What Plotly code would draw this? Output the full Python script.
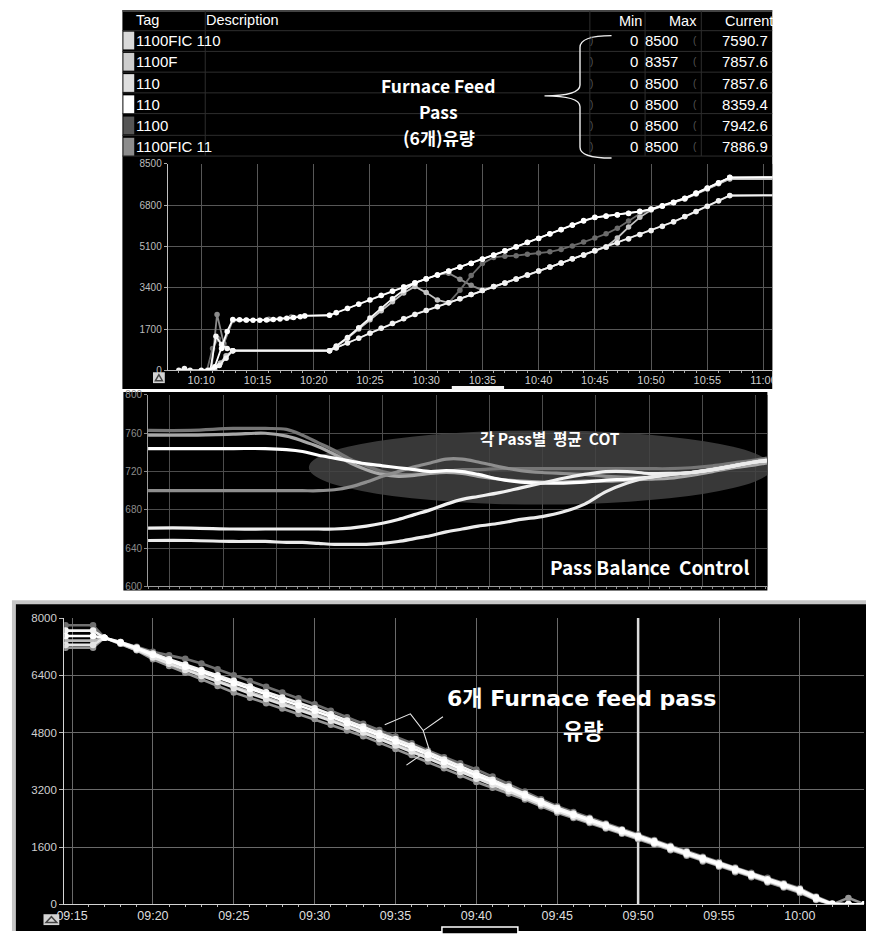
import pandas as pd
import plotly.graph_objects as go

W, H = 870, 937


def fx(px):
    return px / W


def fy(py):
    return 1 - py / H


# ---------------- tag table ----------------
table_tags = ["1100FIC 110", "1100F", "110", "110", "1100", "1100FIC 11"]
table_min = [0, 0, 0, 0, 0, 0]
table_max = [8500, 8357, 8500, 8500, 8500, 8500]
table_current = [7590.7, 7857.6, 7857.6, 8359.4, 7942.6, 7886.9]
table_swatch = ["#d9d9d9", "#cdcdcd", "#dedede", "#ffffff", "#555555", "#8c8c8c"]

# ---------------- feed flow ramp-up (10:00 base, minutes) ----------------
ramp = list(range(22, 58))
t1_min = [10.0, 10.6, 11.2, 11.8, 12.3, 12.8, 13.4, 14.0, 14.6, 15.2, 15.8, 16.4, 17.0,
          17.6, 18.2, 18.8, 19.2, 21.4] + ramp + [61]
t1_val = [0, 0, 150, 900, 1600, 2090, 2080, 2070, 2060, 2060, 2070, 2090, 2110, 2140,
          2170, 2200, 2240, 2266,
          2370, 2550, 2720, 2900, 3080, 3260, 3430, 3600, 3760, 3920, 4080, 4240, 4400,
          4570, 4740, 4910, 5080, 5260, 5430, 5610, 5790, 5970, 6150, 6290, 6350, 6400,
          6460, 6540, 6630, 6770, 6910, 7080, 7290, 7500, 7720, 7940, 7959]
t2_min = [8.0, 8.5, 9.0, 11.0, 11.6, 12.2, 12.8, 21.4] + ramp + [61]
t2_val = [0, 70, 0, 0, 200, 500, 809, 809,
          920, 1120, 1320, 1530, 1730, 1930, 2120, 2300, 2460, 2620, 2780, 2950, 3120,
          3290, 3450, 3600, 3760, 3920, 4090, 4250, 4420, 4590, 4750, 4920, 5080, 5250,
          5420, 5590, 5760, 5930, 6120, 6330, 6540, 6760, 6980, 7200, 7217]
t3_min = [10.8, 11.3, 11.8, 12.3, 12.8, 21.4] + ramp + [61]
t3_val = [0, 1400, 1050, 900, 809, 809,
          1000, 1350, 1750, 2150, 2550, 2950, 3300, 3600, 3770, 3930, 4090, 4250, 4410,
          4580, 4750, 4920, 5090, 5270, 5440, 5620, 5800, 5980, 6170, 6300, 6360, 6410,
          6470, 6550, 6640, 6780, 6920, 7090, 7300, 7510, 7730, 7950, 7950]
t4_min = [11.2, 11.7, 12.2, 12.8, 21.4] + ramp + [61]
t4_val = [0, 300, 600, 809, 809,
          980, 1320, 1700, 2080, 2450, 2820, 3180, 3450, 3200, 2900, 2780, 2950, 3120,
          3290, 3450, 3600, 3760, 3920, 4090, 4250, 4420, 4590, 4750, 4920, 5080, 5450,
          5900, 6300, 6600, 6760, 6900, 7060, 7260, 7470, 7680, 7880, 7880]
t5_min = [10.9, 11.4, 12.0, 12.8, 14.0, 16.0, 18.0, 19.2, 21.4] + ramp + [61]
t5_val = [0, 2300, 1100, 2050, 2060, 2100, 2190, 2250, 2266,
          2380, 2560, 2730, 2910, 3090, 3270, 3440, 3610, 3770, 3930, 4000, 3750, 3500,
          3300, 3440, 3590, 3750, 3910, 4080, 4240, 4410, 4580, 4740, 4910, 5070, 5240,
          5410, 5580, 5750, 5920, 6110, 6320, 6530, 6750, 6970, 7190, 7190]
t6_min = [10.5, 11.0, 11.5, 12.0, 12.8, 21.4] + ramp + [61]
t6_val = [0, 900, 1300, 1000, 809, 809,
          930, 1130, 1330, 1540, 1740, 1940, 2130, 2310, 2470, 2630, 2780, 3300, 3900,
          4400, 4650, 4700, 4720, 4780, 4830, 4880, 4980, 5120, 5280, 5450, 5620, 5850,
          6150, 6450, 6620, 6760, 6900, 7060, 7270, 7480, 7700, 7900, 7900]

top_series = [
    (t5_min, t5_val, "#8a8a8a"),
    (t6_min, t6_val, "#6b6b6b"),
    (t4_min, t4_val, "#c4c4c4"),
    (t2_min, t2_val, "#f2f2f2"),
    (t3_min, t3_val, "#f6f6f6"),
    (t1_min, t1_val, "#ffffff"),
]

# ---------------- coil outlet temperature per pass (minutes) ----------------
cot_min = [0, 4, 8, 11, 13, 14.5, 16, 17.5, 19, 20.5, 22, 23.5, 25, 26.5, 28, 29.5, 31,
           33, 35, 37, 39, 41, 43, 45, 47, 49, 51, 53, 55, 57, 58.1]
cot_a = [763, 763, 765, 765, 764, 758, 750, 742, 733, 726, 720, 717, 717, 718, 720, 722,
         722, 723, 723, 723, 723, 723, 723, 723, 723, 723, 724, 726, 729, 732, 734]
cot_b = [758, 758, 759, 760, 757, 752, 746, 738, 729, 722, 717, 715, 716, 718, 719, 718,
         715, 712, 710, 709, 709, 710, 710, 711, 712, 713, 716, 720, 724, 727, 729]
cot_c = [744, 744, 744, 744, 743, 741, 737, 734, 731, 728, 726, 724, 722, 720, 721, 720,
         717, 712, 709, 708, 708, 709, 711, 712, 714, 717, 719, 722, 726, 730, 732]
cot_d = [700, 700, 700, 700, 700, 700, 700, 701, 704, 709, 715, 720, 725, 729, 733, 733,
         730, 725, 721, 719, 718, 717, 715, 714, 714, 716, 719, 723, 727, 731, 733]
cot_e = [661, 661, 660, 660, 660, 660, 660, 660, 661, 663, 666, 670, 675, 680, 686, 691,
         694, 698, 703, 708, 713, 717, 720, 720, 718, 718, 719, 722, 726, 730, 731]
cot_f = [648, 648, 647, 647, 646, 646, 645, 644, 644, 644, 645, 647, 650, 653, 657, 660,
         663, 666, 670, 673, 678, 686, 699, 708, 714, 717, 719, 722, 726, 730, 731]

cot_series = [
    (cot_a, "#767676"),
    (cot_b, "#a8a8a8"),
    (cot_d, "#8e8e8e"),
    (cot_c, "#ffffff"),
    (cot_e, "#f0f0f0"),
    (cot_f, "#ebebeb"),
]

# ---------------- feed flow ramp-down (09:00 base, minutes) ----------------
down_min = [14.6, 16.3] + list(range(17, 63)) + [63, 64]
d1 = [7800, 7800,
      7450, 7330, 7200, 7060, 6960, 6860, 6730, 6570, 6400, 6240, 6080, 5920, 5760, 5590,
      5410, 5230, 5050, 4870, 4690, 4500, 4300, 4110, 3940, 3770, 3570, 3360, 3150, 2940,
      2740, 2580, 2420, 2260, 2100, 1950, 1800, 1640, 1490, 1330, 1180, 1030, 880, 740,
      590, 450, 220, 30, 0, 0]
d2 = [7650, 7650,
      7450, 7330, 7180, 7010, 6850, 6700, 6550, 6400, 6250, 6090, 5930, 5780, 5630, 5480,
      5310, 5140, 4970, 4790, 4620, 4440, 4250, 4050, 3860, 3670, 3480, 3290, 3090, 2890,
      2700, 2540, 2390, 2230, 2080, 1920, 1770, 1610, 1460, 1300, 1150, 1000, 850, 700,
      560, 420, 200, 20, 0, 0]
d3 = [7500, 7500,
      7450, 7310, 7150, 6970, 6800, 6640, 6490, 6330, 6180, 6020, 5860, 5710, 5560, 5410,
      5240, 5070, 4900, 4720, 4550, 4370, 4180, 3980, 3790, 3600, 3420, 3230, 3040, 2840,
      2650, 2500, 2350, 2190, 2040, 1890, 1730, 1580, 1420, 1270, 1110, 960, 820, 670,
      530, 390, 170, 10, 0, 0]
d4 = [7370, 7370,
      7450, 7280, 7110, 6920, 6740, 6570, 6410, 6250, 6090, 5930, 5780, 5630, 5480, 5330,
      5160, 4990, 4820, 4640, 4460, 4290, 4100, 3910, 3720, 3530, 3360, 3180, 3000, 2800,
      2620, 2470, 2320, 2170, 2010, 1860, 1710, 1550, 1400, 1240, 1090, 940, 800, 650,
      510, 360, 150, 5, 0, 0]
d5 = [7250, 7250,
      7450, 7300, 7120, 6900, 6720, 6550, 6380, 6210, 6040, 5890, 5740, 5590, 5440, 5290,
      5130, 4960, 4800, 4620, 4440, 4270, 4080, 3890, 3700, 3510, 3340, 3160, 2980, 2790,
      2600, 2450, 2310, 2150, 2000, 1850, 1700, 1540, 1390, 1230, 1080, 930, 790, 640,
      500, 350, 140, 0, 0, 0]
d6 = [7170, 7170,
      7450, 7290, 7100, 6850, 6660, 6470, 6290, 6100, 5920, 5770, 5620, 5470, 5320, 5180,
      5020, 4860, 4700, 4520, 4340, 4170, 3990, 3800, 3610, 3420, 3260, 3100, 2930, 2740,
      2560, 2410, 2270, 2120, 1970, 1820, 1670, 1510, 1360, 1200, 1050, 900, 760, 610,
      470, 320, 120, 0, 180, 0]

down_series = [
    (d1, "#707070"),
    (d6, "#959595"),
    (d4, "#bababa"),
    (d5, "#e4e4e4"),
    (d2, "#f2f2f2"),
    (d3, "#ffffff"),
]

top_base = pd.Timestamp("2024-01-01 10:00")
down_base = pd.Timestamp("2024-01-01 09:00")


def stamp(base, mins):
    return [base + pd.Timedelta(minutes=m) for m in mins]


fig = go.Figure()

for mins, vals, col in top_series:
    fig.add_trace(go.Scatter(
        x=stamp(top_base, mins), y=vals, mode="lines+markers",
        line=dict(color=col, width=1.8), marker=dict(color=col, size=5.5),
        xaxis="x", yaxis="y", hoverinfo="skip"))

for vals, col in cot_series:
    fig.add_trace(go.Scatter(
        x=cot_min, y=vals, mode="lines", line=dict(color=col, width=3.2, shape="spline"),
        xaxis="x2", yaxis="y2", hoverinfo="skip"))

for vals, col in down_series:
    fig.add_trace(go.Scatter(
        x=stamp(down_base, down_min), y=vals, mode="lines+markers",
        line=dict(color=col, width=2.6), marker=dict(color=col, size=6.5),
        xaxis="x3", yaxis="y3", hoverinfo="skip"))

ui_font = "Liberation Sans, Arial, sans-serif"
kr_font = "Noto Sans CJK KR, Noto Sans, sans-serif"
wide_font = "DejaVu Sans, Noto Sans CJK KR, sans-serif"

shapes = []
annotations = []


def rect(x0, y0, x1, y1, fill, layer="below", line=None):
    shapes.append(dict(type="rect", xref="paper", yref="paper",
                       x0=fx(x0), x1=fx(x1), y0=fy(y1), y1=fy(y0),
                       fillcolor=fill, line=line or dict(width=0), layer=layer))


def seg(x0, y0, x1, y1, color, width=1, layer="below"):
    shapes.append(dict(type="line", xref="paper", yref="paper",
                       x0=fx(x0), x1=fx(x1), y0=fy(y0), y1=fy(y1),
                       line=dict(color=color, width=width), layer=layer))


def label(x, y, text, size, color="#ffffff", anchor="left", family=ui_font):
    shift = {"left": -5, "right": 4, "center": 0}[anchor]
    annotations.append(dict(xref="paper", yref="paper", x=fx(x), y=fy(y), text=text,
                            showarrow=False, xanchor=anchor, yanchor="middle",
                            xshift=shift, borderpad=0,
                            font=dict(family=family, size=size, color=color)))


def path(points, color, width=1.2, layer="above", close=False):
    # points: list of (command, (x, y)) pairs, one coordinate pair per command
    d = " ".join(f"{cmd}{fx(px):.5f},{fy(py):.5f}" for cmd, (px, py) in points)
    if close:
        d += " Z"
    shapes.append(dict(type="path", xref="paper", yref="paper", path=d,
                       line=dict(color=color, width=width), layer=layer))


def brace_path(color, width):
    d = (f"M{fx(612):.5f},{fy(30):.5f} "
         f"Q{fx(580):.5f},{fy(30):.5f} {fx(580):.5f},{fy(42):.5f} "
         f"L{fx(580):.5f},{fy(80):.5f} "
         f"Q{fx(580):.5f},{fy(91):.5f} {fx(544):.5f},{fy(91):.5f} "
         f"Q{fx(580):.5f},{fy(91):.5f} {fx(580):.5f},{fy(102):.5f} "
         f"L{fx(580):.5f},{fy(143):.5f} "
         f"Q{fx(580):.5f},{fy(154):.5f} {fx(612):.5f},{fy(154):.5f}")
    shapes.append(dict(type="path", xref="paper", yref="paper", path=d,
                       line=dict(color=color, width=width), layer="above"))


# panels
rect(116, 4, 775, 388, "#000000")
rect(117, 391, 770, 592, "#000000")
rect(4, 602, 870, 937, "#c6c6c6")
rect(8, 606, 870, 937, "#000000")

# table grid
row_y = [35 + i * 21.5 for i in range(6)]
seg(116, 5, 775, 5, "#5a5a5a", 1.5)
for yy in [25, 46, 67, 88, 109, 131, 152]:
    seg(116, yy, 775, yy, "#2e2e2e", 1)
for xx in [200, 590, 646, 703]:
    seg(xx, 5, xx, 152, "#2e2e2e", 1)
for yy, col in zip(row_y, table_swatch):
    rect(117, yy - 9, 128, yy + 9, col)

label(134, 14, "Tag", 14.5)
label(205, 14, "Description", 14.5)
label(640, 15, "Min", 14.5, anchor="right")
label(696, 15, "Max", 14.5, anchor="right")
label(773, 15, "Current", 14.5, anchor="right")
for yy, tag, mn, mx, cur in zip(row_y, table_tags, table_min, table_max, table_current):
    label(134, yy, tag, 15)
    label(594, yy, ")", 10, color="#555555")
    label(636, yy, str(mn), 15, anchor="right")
    label(650, yy, str(mx), 15)
    label(699, yy, "(", 10, color="#555555")
    label(768, yy, f"{cur:.1f}", 15, anchor="right")

# brace grouping the six passes
brace_path("#f0f0f0", 1.4)
label(437, 81, "<b>Furnace Feed</b>", 17.5, anchor="center", family=kr_font)
label(437, 107, "<b>Pass</b>", 17.5, anchor="center", family=kr_font)
label(437, 133, "<b>(6개)유량</b>", 17.5, anchor="center", family=kr_font)

# COT highlight ellipse
shapes.append(dict(type="circle", xref="x2", yref="y2", x0=15.1, x1=58.6, y0=685.5, y1=763,
                   fillcolor="rgba(66,66,66,0.85)", line=dict(width=0), layer="between"))
label(550, 438, "<b>각 Pass별  평균  COT</b>", 15.5, anchor="center", family=kr_font)
label(650, 568, "<b>Pass Balance  Control</b>", 19, anchor="center", family=kr_font)

# ramp-down callout
label(582, 701, "<b>6개 Furnace feed pass</b>", 22, anchor="center", family=wide_font)
label(583, 732, "<b>유량</b>", 22, anchor="center", family=kr_font)
path([("M", (382, 728)), ("L", (408, 717)), ("L", (421, 734)), ("L", (441, 720)),
      ("M", (421, 734)), ("L", (427, 753)), ("L", (404, 769))], "#e8e8e8", 1.1)

# cursor at 09:50
shapes.append(dict(type="line", xref="x3", yref="y3",
                   x0=down_base + pd.Timedelta(minutes=50), x1=down_base + pd.Timedelta(minutes=50),
                   y0=0, y1=8000, line=dict(color="#dcdcdc", width=2.5), layer="between"))

# trend toolbar buttons and scroll thumbs
for bx0, by0, bx1, by1 in [(147, 371, 159, 382), (36, 920, 52, 931)]:
    rect(bx0, by0, bx1, by1, "#d4d4d4", layer="above")
    cx = (bx0 + bx1) / 2
    path([("M", (bx0 + 2.5, by1 - 2.5)), ("L", (cx, by0 + 2.5)), ("L", (bx1 - 2.5, by1 - 2.5))],
         "#444444", 1.5, close=True)
rect(450, 385, 503, 389, "#f4f4f4", layer="above")
rect(440, 933, 517, 940, "#000000", layer="above", line=dict(color="#ffffff", width=1.5))
rect(775.5, 0, 870, 389, "#ffffff", layer="above")

axis_common = dict(showline=True, zeroline=False, showgrid=True, gridwidth=1)

fig.update_layout(
    width=W, height=H, margin=dict(l=0, r=0, t=0, b=0),
    paper_bgcolor="#ffffff", plot_bgcolor="#000000", showlegend=False,
    shapes=shapes, annotations=annotations,
    xaxis=dict(axis_common, domain=[fx(162), fx(775)], anchor="y", type="date",
               range=["2024-01-01 10:07:01", "2024-01-01 11:00:47"],
               tick0="2024-01-01 10:00", dtick=300000, tickformat="%H:%M",
               gridcolor="#575757", linecolor="#c0c0c0", ticks="",
               tickfont=dict(family=ui_font, size=11, color="#d0d0d0"),
               minor=dict(ticks="outside", ticklen=2, tickcolor="#aaaaaa", dtick=60000,
                          showgrid=False)),
    yaxis=dict(axis_common, domain=[fy(369), fy(160)], anchor="x", range=[0, 8500],
               tick0=0, dtick=1700, tickformat="d", gridcolor="#575757",
               linecolor="#c0c0c0", ticks="outside", ticklen=3, tickcolor="#aaaaaa",
               tickfont=dict(family=ui_font, size=10, color="#bdbdbd")),
    xaxis2=dict(axis_common, domain=[fx(142), fx(770)], anchor="y2", range=[0, 58.15],
                tick0=2.04, dtick=5, showticklabels=False, ticks="",
                gridcolor="#4c4c4c", linecolor="#9a9a9a",
                minor=dict(ticks="outside", ticklen=2, tickcolor="#888888", dtick=1,
                           showgrid=False)),
    yaxis2=dict(axis_common, domain=[fy(588), fy(394)], anchor="x2", range=[600, 800],
                tick0=600, dtick=40, gridcolor="#4c4c4c", linecolor="#9a9a9a",
                ticks="outside", ticklen=3, tickcolor="#888888",
                tickfont=dict(family=ui_font, size=10, color="#8c8c8c")),
    xaxis3=dict(axis_common, domain=[fx(57), fx(868)], anchor="y3", type="date",
                range=["2024-01-01 09:14:31", "2024-01-01 10:03:58"],
                tick0="2024-01-01 09:00", dtick=300000, tickformat="%H:%M",
                gridcolor="#6a6a6a", linecolor="#d4d4d4", ticks="",
                tickfont=dict(family=ui_font, size=12.5, color="#dedede"),
                minor=dict(ticks="outside", ticklen=2, tickcolor="#bbbbbb", dtick=60000,
                           showgrid=False)),
    yaxis3=dict(axis_common, domain=[fy(910), fy(620)], anchor="x3", range=[0, 8000],
                tick0=0, dtick=1600, tickformat="d", gridcolor="#6a6a6a",
                linecolor="#d4d4d4", ticks="outside", ticklen=4, tickcolor="#bbbbbb",
                tickfont=dict(family=ui_font, size=11.5, color="#d0d0d0")),
)

fig.write_html("out.html")
